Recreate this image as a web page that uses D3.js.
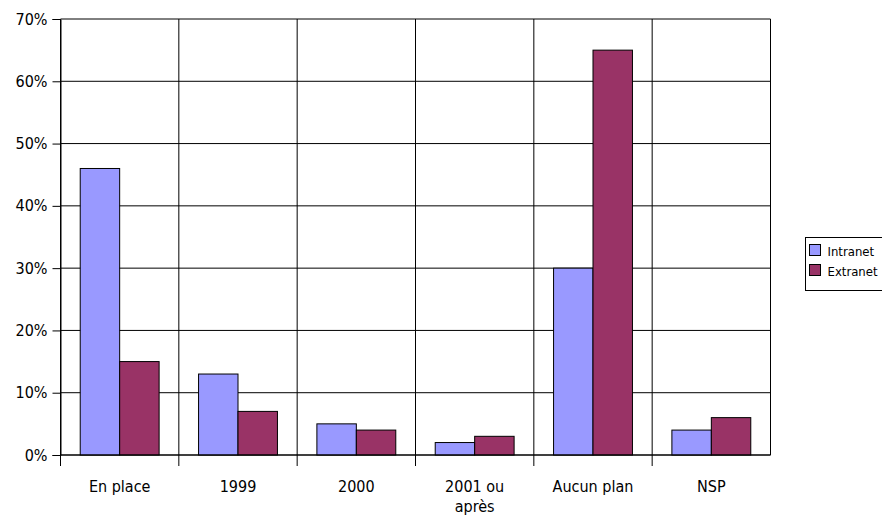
<!DOCTYPE html>
<html>
<head>
<meta charset="utf-8">
<script src="https://cdn.jsdelivr.net/npm/d3@7"></script>
<style>
  html, body { margin: 0; padding: 0; background: #fff; }
  svg text { font-family: "DejaVu Sans Condensed", "DejaVu Sans", sans-serif; fill: #000; }
</style>
</head>
<body>
<svg id="chart" width="882" height="519"></svg>
<script>
// Categories and the two series (percent)
const categories = ["En place", "1999", "2000", "2001 ou\naprès", "Aucun plan", "NSP"];
const seriesNames = ["Intranet", "Extranet"];
const intranet = [46, 13, 5, 2, 30, 4];
const extranet = [15, 7, 4, 3, 65, 6];
const yTicks = [0, 10, 20, 30, 40, 50, 60, 70];
const colors = ["#9999FF", "#993366"];

const svg = d3.select("#chart");
const plotLeft = 60.5, plotRight = 770.5, plotTop = 19, plotBottom = 455;

const x = d3.scaleBand().domain(categories).range([plotLeft, plotRight]).padding(0);
const bw = x.bandwidth();
const x1 = d3.scaleBand().domain(seriesNames).range([bw / 6, bw * 5 / 6]).padding(0);
const y = d3.scaleLinear().domain([0, 70]).range([plotBottom, plotTop]);

// Horizontal gridlines
svg.append("g").selectAll("line").data(yTicks).join("line")
  .attr("x1", plotLeft).attr("x2", plotRight)
  .attr("y1", d => y(d)).attr("y2", d => y(d))
  .attr("stroke", "#000").attr("stroke-width", 1);

// Vertical category separators (extend below the axis as tick marks)
const edges = categories.map(c => x(c)).concat([plotRight]);
svg.append("g").selectAll("line").data(edges).join("line")
  .attr("x1", d => d).attr("x2", d => d)
  .attr("y1", plotTop).attr("y2", (d, i) => i === edges.length - 1 ? plotBottom : plotBottom + 11)
  .attr("stroke", "#000").attr("stroke-width", 1);

// Bars
const rows = categories.map((c, i) => ({ cat: c, vals: [intranet[i], extranet[i]] }));
const groups = svg.append("g").selectAll("g").data(rows).join("g")
  .attr("transform", d => `translate(${x(d.cat)},0)`);
groups.selectAll("rect").data(d => d.vals.map((v, j) => ({ v, s: seriesNames[j], j })))
  .join("rect")
  .attr("x", d => x1(d.s))
  .attr("width", x1.bandwidth())
  .attr("y", d => y(d.v))
  .attr("height", d => y(0) - y(d.v))
  .attr("fill", d => colors[d.j])
  .attr("stroke", "#000").attr("stroke-width", 1);

// Y axis
const yAxis = d3.axisLeft(y).tickValues(yTicks).tickSize(8).tickPadding(5)
  .tickFormat(d => d + "%");
const ya = svg.append("g").attr("transform", `translate(${plotLeft},0)`).call(yAxis);
ya.select(".domain").attr("stroke", "#000");
ya.selectAll(".tick line").attr("stroke", "#000");
ya.selectAll("text").attr("font-size", 16)
  .style("font-family", '"DejaVu Sans Condensed", "DejaVu Sans", sans-serif');

// Baseline
svg.append("line").attr("x1", plotLeft).attr("x2", plotRight)
  .attr("y1", plotBottom).attr("y2", plotBottom).attr("stroke", "#000");

// Category labels
const lab = svg.append("g").selectAll("text").data(categories).join("text")
  .attr("x", d => x(d) + bw / 2)
  .attr("y", 492)
  .attr("text-anchor", "middle")
  .attr("font-size", 16);
lab.selectAll("tspan").data(d => d.split("\n")).join("tspan")
  .attr("x", function () { return d3.select(this.parentNode).attr("x"); })
  .attr("dy", (d, i) => i === 0 ? 0 : 20)
  .text(d => d);

// Legend
const lg = svg.append("g").attr("transform", "translate(805.5,237.5)");
lg.append("rect").attr("width", 80).attr("height", 53)
  .attr("fill", "#fff").attr("stroke", "#000");
seriesNames.forEach((s, i) => {
  lg.append("rect").attr("x", 4).attr("y", 7 + i * 20).attr("width", 11).attr("height", 11)
    .attr("fill", colors[i]).attr("stroke", "#000");
  lg.append("text").attr("x", 22).attr("y", 18 + i * 20).attr("font-size", 13).text(s);
});
</script>
</body>
</html>
